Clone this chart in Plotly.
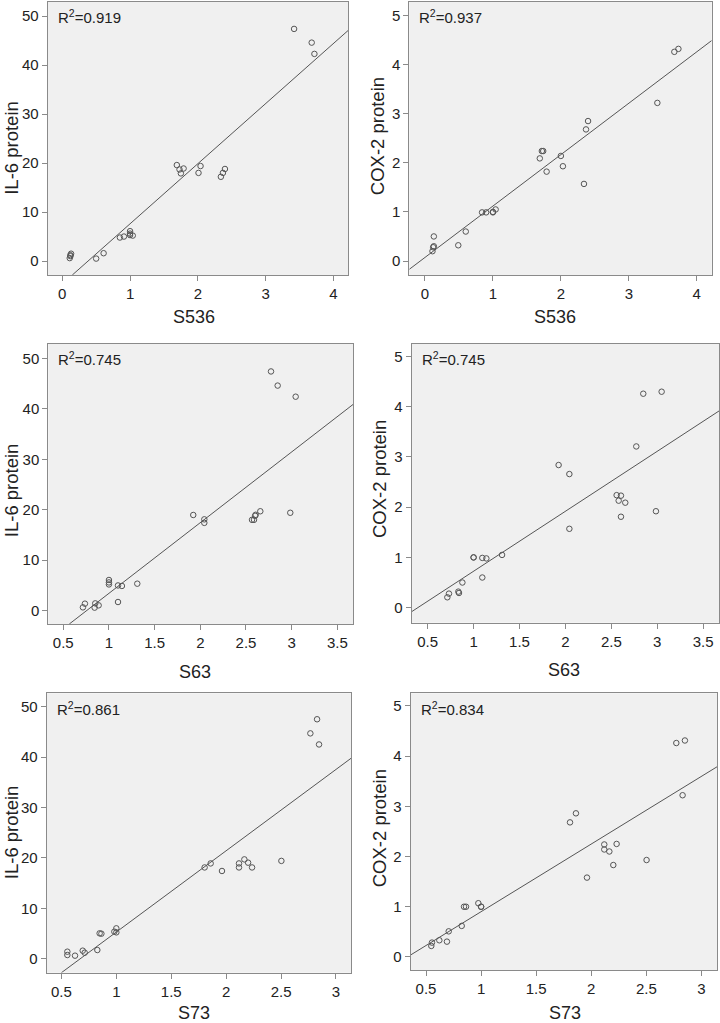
import plotly.graph_objects as go

# ---------------- data ----------------
s536_il6_x = [0.11, 0.12, 0.13, 0.12, 0.50, 0.61, 0.85, 0.91, 1.00, 1.00, 1.00, 1.04,
              1.69, 1.73, 1.75, 1.79, 2.01, 2.04, 2.34, 2.37, 2.40, 3.42, 3.68, 3.72]
s536_il6_y = [0.6, 1.0, 1.5, 1.2, 0.5, 1.6, 4.8, 5.0, 6.1, 5.6, 5.3, 5.2,
              19.6, 18.7, 17.9, 18.9, 18.0, 19.4, 17.2, 18.0, 18.8, 47.4, 44.6, 42.3]

s536_cox2_x = [0.11, 0.12, 0.13, 0.13, 0.49, 0.60, 0.84, 0.90, 1.00, 1.00, 1.04, 1.69,
               1.72, 1.74, 1.79, 2.00, 2.03, 2.34, 2.37, 2.40, 3.42, 3.67, 3.73]
s536_cox2_y = [0.20, 0.28, 0.30, 0.50, 0.32, 0.60, 0.99, 0.99, 0.99, 1.00, 1.05, 2.09,
               2.24, 2.24, 1.82, 2.14, 1.93, 1.57, 2.68, 2.85, 3.22, 4.26, 4.32]

s63_il6_x = [0.715, 0.737, 0.843, 0.85, 0.887, 1.0, 1.0, 1.0, 1.099, 1.142, 1.099, 1.31,
             1.923, 2.044, 2.044, 2.566, 2.588, 2.60, 2.606, 2.657, 2.985, 2.774, 2.847, 3.044]
s63_il6_y = [0.66, 1.39, 0.6, 1.45, 1.06, 6.08, 5.6, 5.2, 5.0, 4.9, 1.72, 5.35,
             18.96, 18.1, 17.4, 18.0, 18.0, 18.8, 19.0, 19.7, 19.4, 47.4, 44.6, 42.4]

s63_cox2_x = [0.714, 0.732, 0.834, 0.841, 0.878, 1.0, 1.0, 1.095, 1.139, 1.095, 1.31, 1.926,
              2.043, 2.043, 2.558, 2.58, 2.605, 2.605, 2.652, 2.986, 2.772, 2.848, 3.048]
s63_cox2_y = [0.206, 0.279, 0.319, 0.292, 0.50, 1.0, 1.0, 0.99, 0.98, 0.60, 1.05, 2.84,
              2.66, 1.57, 2.24, 2.13, 2.23, 1.81, 2.09, 1.92, 3.21, 4.26, 4.30]

s73_il6_x = [0.554, 0.554, 0.624, 0.694, 0.712, 0.827, 0.848, 0.864, 0.982, 1.0, 1.0, 1.804,
             1.859, 1.962, 2.117, 2.117, 2.166, 2.2, 2.236, 2.503, 2.767, 2.828, 2.846]
s73_il6_y = [1.39, 0.73, 0.6, 1.59, 1.19, 1.72, 5.03, 4.96, 5.36, 6.02, 5.22, 18.1,
             18.9, 17.4, 18.9, 18.1, 19.7, 19.05, 18.1, 19.4, 44.7, 47.5, 42.5]

s73_cox2_x = [0.548, 0.554, 0.621, 0.69, 0.706, 0.824, 0.845, 0.863, 0.975, 1.0, 1.0, 1.807,
              1.861, 1.961, 2.118, 2.118, 2.164, 2.23, 2.2, 2.502, 2.772, 2.85, 2.829]
s73_cox2_y = [0.219, 0.286, 0.332, 0.305, 0.51, 0.618, 1.0, 1.0, 1.07, 1.0, 1.0, 2.68,
              2.86, 1.58, 2.24, 2.14, 2.10, 2.25, 1.83, 1.93, 4.26, 4.31, 3.22]

# fitted-line endpoints as drawn
fit_s536_il6_x = [0.148, 4.227]
fit_s536_il6_y = [-2.85, 47.2]
fit_s536_cox2_x = [-0.231, 4.22]
fit_s536_cox2_y = [-0.169, 4.49]
fit_s63_il6_x = [0.566, 3.675]
fit_s63_il6_y = [-2.64, 40.9]
fit_s63_cox2_x = [0.326, 3.676]
fit_s63_cox2_y = [-0.08, 3.92]
fit_s73_il6_x = [0.5, 3.137]
fit_s73_il6_y = [-2.78, 39.75]
fit_s73_cox2_x = [0.361, 3.144]
fit_s73_cox2_y = [0.04, 3.79]

r2_labels = ["0.919", "0.937", "0.745", "0.745", "0.861", "0.834"]
x_titles = ["S536", "S536", "S63", "S63", "S73", "S73"]
y_titles = ["IL-6 protein", "COX-2 protein", "IL-6 protein", "COX-2 protein",
            "IL-6 protein", "COX-2 protein"]

ticks_il6 = [0, 10, 20, 30, 40, 50]
ticks_cox2 = [0, 1, 2, 3, 4, 5]
ticks_s536 = [0, 1, 2, 3, 4]
ticks_s63 = [0.5, 1, 1.5, 2, 2.5, 3, 3.5]
ticks_s73 = [0.5, 1, 1.5, 2, 2.5, 3]

# ---------------- layout geometry ----------------
W, H = 720, 1023
FONT = "Liberation Sans, Arial, Helvetica, sans-serif"

panels = [
    dict(x=s536_il6_x, y=s536_il6_y, fx=fit_s536_il6_x, fy=fit_s536_il6_y,
         xt=ticks_s536, yt=ticks_il6, xr=[-0.215, 4.22], yr=[-2.85, 53.0],
         box=(47.7, 348.3, 1.5, 275), xtitle=(194.3, 316.7), ytitle=(11.5, 148.3)),
    dict(x=s536_cox2_x, y=s536_cox2_y, fx=fit_s536_cox2_x, fy=fit_s536_cox2_y,
         xt=ticks_s536, yt=ticks_cox2, xr=[-0.231, 4.22], yr=[-0.285, 5.285],
         box=(409.3, 711.7, 1.5, 275), xtitle=(555, 316.7), ytitle=(377.5, 136.7)),
    dict(x=s63_il6_x, y=s63_il6_y, fx=fit_s63_il6_x, fy=fit_s63_il6_y,
         xt=ticks_s63, yt=ticks_il6, xr=[0.336, 3.675], yr=[-2.64, 52.84],
         box=(48.3, 353.3, 344, 624), xtitle=(195, 671.7), ytitle=(11.5, 490.7)),
    dict(x=s63_cox2_x, y=s63_cox2_y, fx=fit_s63_cox2_x, fy=fit_s63_cox2_y,
         xt=ticks_s63, yt=ticks_cox2, xr=[0.326, 3.676], yr=[-0.30, 5.25],
         box=(411.7, 719.3, 344, 622.7), xtitle=(564, 670), ytitle=(379, 479)),
    dict(x=s73_il6_x, y=s73_il6_y, fx=fit_s73_il6_x, fy=fit_s73_il6_y,
         xt=ticks_s73, yt=ticks_il6, xr=[0.366, 3.137], yr=[-2.78, 52.65],
         box=(46.7, 351, 693.3, 972.7), xtitle=(194.3, 1013), ytitle=(11.5, 832.7)),
    dict(x=s73_cox2_x, y=s73_cox2_y, fx=fit_s73_cox2_x, fy=fit_s73_cox2_y,
         xt=ticks_s73, yt=ticks_cox2, xr=[0.361, 3.144], yr=[-0.26, 5.25],
         box=(410.7, 717.3, 693.3, 970), xtitle=(565, 1013), ytitle=(379, 828.3)),
]

fig = go.Figure()
layout = dict(
    width=W, height=H, margin=dict(l=0, r=0, t=0, b=0),
    paper_bgcolor="white", plot_bgcolor="#f0f0f0", showlegend=False,
    font=dict(family=FONT, size=15, color="#222222"),
)
annotations = []

def fmt(v):
    return ("%g" % v)

for i, p in enumerate(panels):
    n = i + 1
    xa = "x" if n == 1 else "x%d" % n
    ya = "y" if n == 1 else "y%d" % n
    xkey = "xaxis" if n == 1 else "xaxis%d" % n
    ykey = "yaxis" if n == 1 else "yaxis%d" % n
    l, r, t, b = p["box"]

    fig.add_trace(go.Scatter(x=p["fx"], y=p["fy"], mode="lines", xaxis=xa, yaxis=ya,
                             line=dict(color="#555555", width=1), hoverinfo="skip"))
    fig.add_trace(go.Scatter(x=p["x"], y=p["y"], mode="markers", xaxis=xa, yaxis=ya,
                             marker=dict(symbol="circle-open", size=5.5, color="#555555",
                                         line=dict(width=1, color="#555555"))))

    common = dict(showgrid=False, zeroline=False, showline=True, mirror=True,
                  linecolor="#8a8a8a", linewidth=1, ticks="outside", ticklen=5,
                  tickcolor="#8a8a8a", tickwidth=1,
                  tickfont=dict(family=FONT, size=15, color="#222222"))
    layout[xkey] = dict(common, domain=[l / W, r / W], range=p["xr"], anchor=ya,
                        tickmode="array", tickvals=p["xt"],
                        ticktext=[fmt(v) for v in p["xt"]])
    layout[ykey] = dict(common, domain=[1 - b / H, 1 - t / H], range=p["yr"], anchor=xa,
                        tickmode="array", tickvals=p["yt"],
                        ticktext=[fmt(v) for v in p["yt"]])

    annotations.append(dict(xref=xa + " domain", yref=ya + " domain", x=0, y=1,
                            xanchor="left", yanchor="middle", xshift=8, yshift=-15,
                            text="R<sup>2</sup>=" + r2_labels[i], showarrow=False,
                            font=dict(family=FONT, size=15, color="#222222")))
    annotations.append(dict(xref="paper", yref="paper", x=p["xtitle"][0] / W,
                            y=1 - p["xtitle"][1] / H, xanchor="center", yanchor="middle",
                            text=x_titles[i], showarrow=False,
                            font=dict(family=FONT, size=18, color="#222222")))
    annotations.append(dict(xref="paper", yref="paper", x=p["ytitle"][0] / W,
                            y=1 - p["ytitle"][1] / H, xanchor="center", yanchor="middle",
                            text=y_titles[i], textangle=-90, showarrow=False,
                            font=dict(family=FONT, size=18.5, color="#222222")))

layout["annotations"] = annotations
fig.update_layout(**layout)
fig.write_html("out.html", config={"displayModeBar": False},
               post_script="document.body.style.margin='0';document.body.style.padding='0';")
